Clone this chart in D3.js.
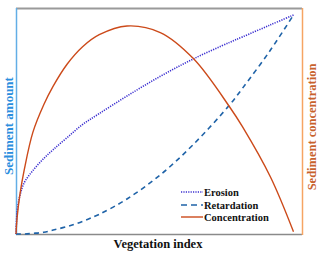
<!DOCTYPE html>
<html><head><meta charset="utf-8">
<script src="https://cdn.jsdelivr.net/npm/d3@7"></script>
<style>body{margin:0;background:#fff}svg{display:block}</style>
</head><body>
<script>
const vegIndex = [0, 0.4, 1.4, 3, 6.1, 10, 13.4, 18.4, 24, 30, 40, 52, 64, 77, 81.6, 91.7, 100];
const erosion = [0, 0.10, 0.175, 0.235, 0.29, 0.345, 0.385, 0.44, 0.50, 0.55, 0.63, 0.72, 0.80, 0.875, 0.90, 0.955, 1.0];
const retardation = [0, 0.0, 0.0, 0.0, 0.003, 0.008, 0.018, 0.034, 0.058, 0.09, 0.16, 0.27, 0.41, 0.59, 0.665, 0.84, 1.0];
const concentration = [0, 0.075, 0.18, 0.295, 0.465, 0.59, 0.675, 0.775, 0.855, 0.91, 0.95, 0.92, 0.80, 0.58, 0.49, 0.26, 0.01];
const seriesNames = ["Erosion", "Retardation", "Concentration"];

const W = 320, H = 254;
const L = 16, R = 302, T = 8, B = 234;
const svg = d3.select("body").append("svg").attr("width", W).attr("height", H);
const x = d3.scaleLinear().domain([0, 100]).range([L, 293.5]);
const y = d3.scaleLinear().domain([0, 1]).range([B, 15]);

// frame
svg.append("line").attr("x1", L).attr("x2", R).attr("y1", T + 0.5).attr("y2", T + 0.5).attr("stroke", "#9a9a9a").attr("stroke-width", 2);
svg.append("line").attr("x1", L).attr("x2", R).attr("y1", B + 0.5).attr("y2", B + 0.5).attr("stroke", "#8a8a8a").attr("stroke-width", 1.5);
svg.append("line").attr("x1", L + 0.5).attr("x2", L + 0.5).attr("y1", T).attr("y2", B + 1).attr("stroke", "#62aee6").attr("stroke-width", 1.5);
svg.append("line").attr("x1", R + 0.5).attr("x2", R + 0.5).attr("y1", T).attr("y2", B + 1).attr("stroke", "#f6a463").attr("stroke-width", 1.5);

const line = d3.line().x((d, i) => x(vegIndex[i])).y(d => y(d)).curve(d3.curveCatmullRom.alpha(0.5));
const styles = [
  {data: erosion, color: "#3b2fd0", dash: "1.2,1.2", w: 1.6},
  {data: retardation, color: "#1f63a8", dash: "5,4", w: 1.6},
  {data: concentration, color: "#cc4a1a", dash: null, w: 1.4}
];
styles.forEach(s => {
  svg.append("path").attr("d", line(s.data)).attr("fill", "none")
    .attr("stroke", s.color).attr("stroke-width", s.w)
    .attr("stroke-dasharray", s.dash);
});

// legend
const legY = [192, 205, 217];
seriesNames.forEach((n, i) => {
  const s = styles[i];
  svg.append("line").attr("x1", 181).attr("x2", 203).attr("y1", legY[i]).attr("y2", legY[i])
    .attr("stroke", s.color).attr("stroke-width", s.w).attr("stroke-dasharray", i === 1 ? "6,4" : s.dash);
  svg.append("text").attr("x", 204).attr("y", legY[i] + 3.5).text(n)
    .attr("font-family", "Liberation Serif, serif").attr("font-weight", "bold").attr("font-size", 10.5).attr("fill", "#111");
});

// axis titles
svg.append("text").attr("x", 158).attr("y", 248).attr("text-anchor", "middle").text("Vegetation index")
  .attr("font-family", "Liberation Serif, serif").attr("font-weight", "bold").attr("font-size", 12.5).attr("fill", "#111");
svg.append("text").attr("transform", "translate(12.5,126) rotate(-90)").attr("text-anchor", "middle").text("Sediment amount")
  .attr("font-family", "Liberation Serif, serif").attr("font-weight", "bold").attr("font-size", 13).attr("fill", "#2a8ede");
svg.append("text").attr("transform", "translate(315.5,127) rotate(-90)").attr("text-anchor", "middle").text("Sediment concentration")
  .attr("font-family", "Liberation Serif, serif").attr("font-weight", "bold").attr("font-size", 12.5).attr("fill", "#c8612c");
</script>
</body></html>
